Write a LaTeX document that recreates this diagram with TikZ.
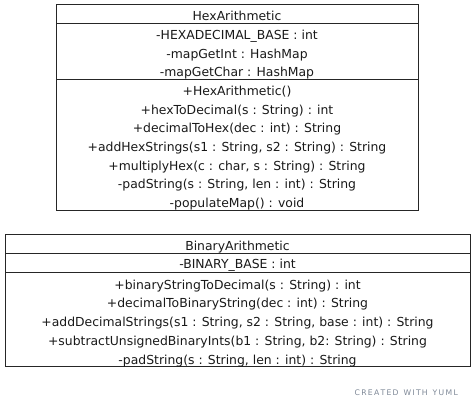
\documentclass[tikz,border=0pt]{standalone}
\usepackage{fontspec}
\setmainfont{DejaVu Sans}
\definecolor{yumlgray}{RGB}{125,135,150}
\begin{document}
\begin{tikzpicture}[x=1pt,y=-1pt,
  umltext/.style={font=\fontsize{12.4}{18.7}\selectfont, align=center, inner sep=0pt, text=black!90, yshift=-2.6pt},
  compart/.style={draw=black!85, line width=1pt, rectangle, minimum height=#1, inner sep=0pt},
  yumlmark/.style={font=\fontsize{7.7}{8}\selectfont, text=yumlgray, inner sep=0pt}
]
\useasboundingbox (0,0) rectangle (475,409);
% HexArithmetic compartments
\node[compart=19pt, minimum width=362pt] (hexname) at (237,14.5) {};
\node[compart=56pt, minimum width=362pt] (hexattr) at (237,52) {};
\node[compart=131pt, minimum width=362pt] (hexops) at (237,145.5) {};
\node[umltext, yshift=1pt] (hexnametext) at (hexname.center) {HexArithmetic};
\node[umltext] (hexattrtext) at (hexattr.center) {-HEXADECIMAL\_BASE : int\\-mapGetInt : HashMap\\-mapGetChar : HashMap};
\node[umltext] (hexopstext) at (hexops.center) {+HexArithmetic()\\+hexToDecimal(s : String) : int\\+decimalToHex(dec : int) : String\\+addHexStrings(s1 : String, s2 : String) : String\\+multiplyHex(c : char, s : String) : String\\-padString(s : String, len : int) : String\\-populateMap() : void};
% BinaryArithmetic compartments
\node[compart=19pt, minimum width=465pt] (binname) at (237.5,244.5) {};
\node[compart=19pt, minimum width=465pt] (binattr) at (237.5,263.5) {};
\node[compart=94pt, minimum width=465pt] (binops) at (237.5,320) {};
\node[umltext] (binnametext) at (binname.center) {BinaryArithmetic};
\node[umltext, yshift=0.8pt] (binattrtext) at (binattr.center) {-BINARY\_BASE : int};
\node[umltext, yshift=-0.6pt] (binopstext) at (binops.center) {+binaryStringToDecimal(s : String) : int\\+decimalToBinaryString(dec : int) : String\\+addDecimalStrings(s1 : String, s2 : String, base : int) : String\\+subtractUnsignedBinaryInts(b1 : String, b2: String) : String\\-padString(s : String, len : int) : String};
\node[yumlmark, anchor=east] (yuml) at (458,393) {C\,R\,E\,A\,T\,E\,D\ \ W\,I\,T\,H\ \ Y\,U\,M\,L};
\end{tikzpicture}
\end{document}
